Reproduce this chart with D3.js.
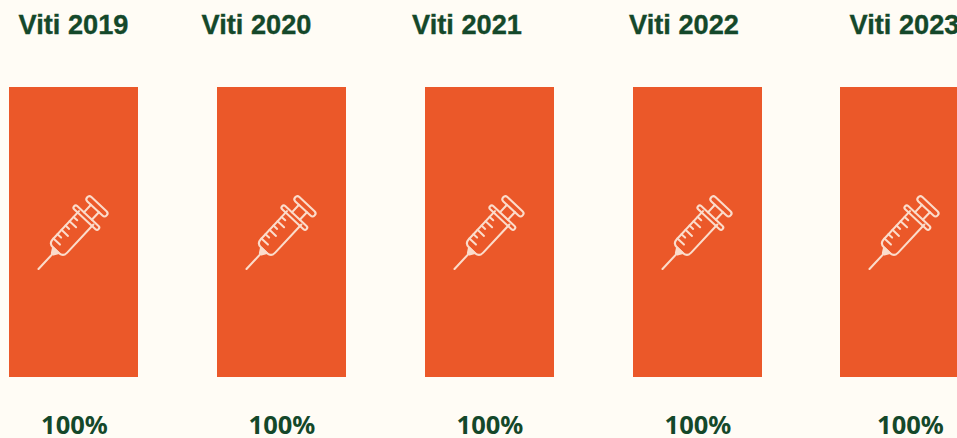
<!DOCTYPE html>
<html><head><meta charset="utf-8">
<script src="https://cdn.jsdelivr.net/npm/d3@7"></script>
<style>html,body{margin:0;padding:0;background:#fffcf5;overflow:hidden}svg{display:block}</style>
</head><body><svg id="c" width="957" height="438"></svg>
<script>
const years = ["Viti 2019","Viti 2020","Viti 2021","Viti 2022","Viti 2023"];
const values = [100,100,100,100,100];
const valueLabels = ["100%","100%","100%","100%","100%"];

const W=957,H=438, orange="#eb5829", green="#14482a", bg="#fffcf5", ink="#fbdccb";
const svg=d3.select("#c");
svg.append("rect").attr("width",W).attr("height",H).attr("fill",bg);
const x=d3.scaleBand().domain(years).range([9,969.4]).paddingInner(0.37936);
const y=d3.scaleLinear().domain([0,100]).range([377,87]);
const bx=d=>Math.round(x(d)), bw=Math.round(x.bandwidth());
const titleShift=[0,-25,-22.5,-13.5,0], labelShift=[1,0.5,0.5,0.5,6];

const g=svg.selectAll("g.col").data(years).join("g").attr("class","col");
g.append("rect").attr("x",bx).attr("y",(d,i)=>y(values[i])).attr("width",bw)
 .attr("height",(d,i)=>y(0)-y(values[i])).attr("fill",orange);
g.append("text").text(d=>d).attr("x",(d,i)=>bx(d)+bw/2+titleShift[i]).attr("y",34)
 .attr("text-anchor","middle").attr("font-family","'Liberation Sans', sans-serif").attr("font-weight",700).attr("font-size",27.2)
 .attr("fill",green).attr("stroke",green).attr("stroke-width",0.35);
g.append("text").text((d,i)=>valueLabels[i]).attr("x",(d,i)=>bx(d)+bw/2+labelShift[i]).attr("y",434)
 .attr("text-anchor","middle").attr("font-family","'Noto Sans', sans-serif").attr("font-weight",700).attr("font-size",25.5).attr("fill",green);

// syringe icon, drawn along a horizontal axis from the needle tip, then rotated
const icon=g.append("g").attr("transform",d=>`translate(${bx(d)+29.5},269) rotate(-47) scale(0.985)`)
 .attr("fill","none").attr("stroke",ink).attr("stroke-width",2.1).attr("stroke-linecap","round").attr("stroke-linejoin","round");
icon.append("path").attr("d","M0,0L21,0");
icon.append("path").attr("d","M21,-1L26,-4L26,4L21,1Z").attr("fill",ink);
icon.append("path").attr("d","M71,-10L32,-10Q26,-10 26,-4L26,4Q26,10 32,10L71,10");
icon.append("rect").attr("x",69).attr("y",-17).attr("width",4.5).attr("height",34).attr("rx",2.2);
icon.append("path").attr("d","M73.5,-5.5L84,-5.5M73.5,5.5L84,5.5");
icon.append("rect").attr("x",84).attr("y",-13.5).attr("width",6).attr("height",27).attr("rx",3);
const ticks=[[33,9],[39,5],[45,9],[51,5],[57,9],[63,5]];
icon.selectAll("line").data(ticks).join("line").attr("x1",d=>d[0]).attr("x2",d=>d[0]).attr("y1",-10).attr("y2",d=>-10+d[1]);
</script></body></html>
